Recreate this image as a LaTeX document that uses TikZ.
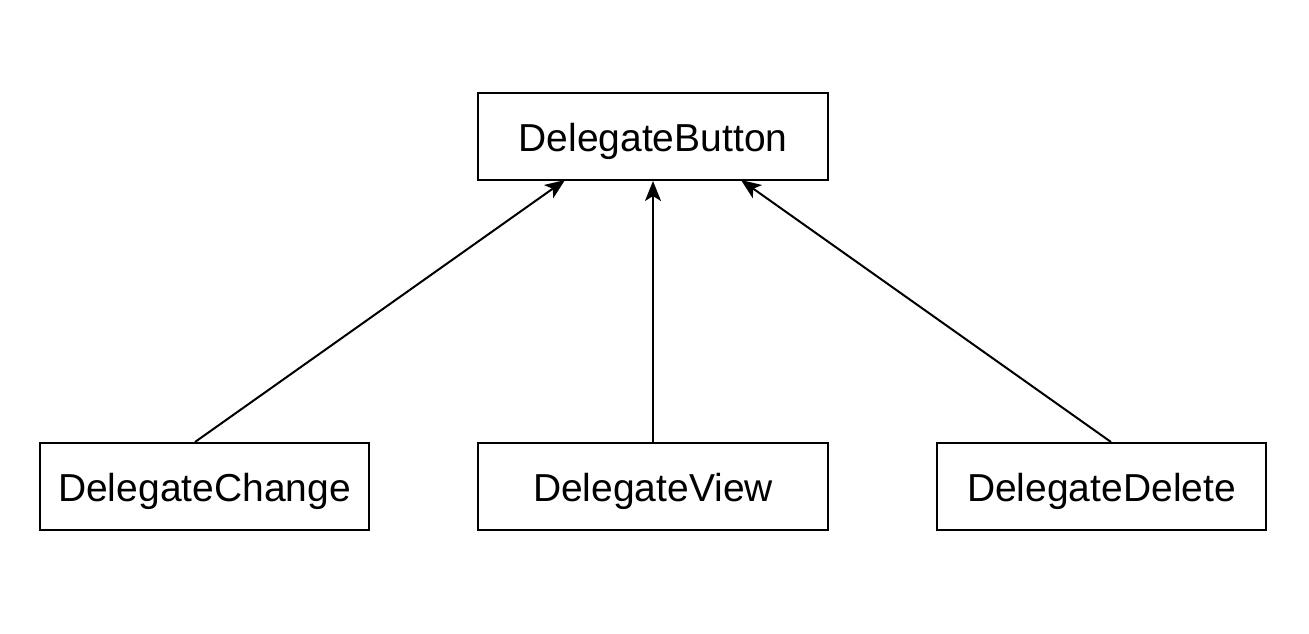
\documentclass[tikz,border=0pt]{standalone}
\usepackage{fontspec}
\setmainfont{Liberation Sans}
\usetikzlibrary{arrows.meta}
\begin{document}
\begin{tikzpicture}[x=1pt,y=-1pt,
  cls/.style={draw,line width=2pt,minimum width=#1,minimum height=87pt,inner sep=0pt,text height=29pt,text depth=0pt,font=\fontsize{39}{47}\selectfont},
  arr/.style={line width=2pt,-{Stealth[length=20pt,width=16pt,inset=5pt]}}]
\useasboundingbox (0,0) rectangle (1309,633);
\node[cls=350pt] (btn) at (653,136.5) {DelegateButton};
\node[cls=329pt] (chg) at (204.5,486.5) {DelegateChange};
\node[cls=350pt] (view) at (653,486.5) {DelegateView};
\node[cls=329pt] (del) at (1101.5,486.5) {DelegateDelete};
\coordinate (t1) at (565,180);
\coordinate (t3) at (741,180);
\draw[arr] (chg.north -| 195,0) -- (t1);
\draw[arr] (view.north) -- (btn.south);
\draw[arr] (del.north -| 1111,0) -- (t3);
\end{tikzpicture}
\end{document}
